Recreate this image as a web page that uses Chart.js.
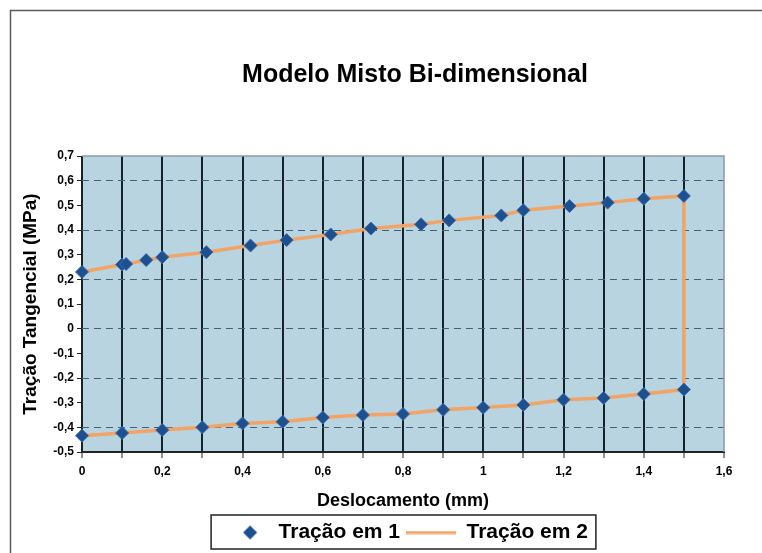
<!DOCTYPE html>
<html>
<head>
<meta charset="utf-8">
<script src="https://cdn.jsdelivr.net/npm/chart.js@4.4.0/dist/chart.umd.min.js"></script>
<style>
  html, body { margin: 0; padding: 0; background: #fff; }
</style>
</head>
<body>
<canvas id="chart" width="762" height="553"></canvas>
<script>
// Upper branch (loading) - Tração em 1 diamonds
const upperX = [0, 0.1, 0.11, 0.16, 0.2, 0.31, 0.42, 0.51, 0.62, 0.72, 0.845, 0.915, 1.045, 1.1, 1.215, 1.31, 1.4, 1.5];
const upperY = [0.23, 0.26, 0.262, 0.278, 0.29, 0.31, 0.337, 0.359, 0.382, 0.406, 0.423, 0.439, 0.459, 0.48, 0.497, 0.511, 0.527, 0.538];
// Lower branch (unloading)
const lowerX = [0, 0.1, 0.2, 0.3, 0.4, 0.5, 0.6, 0.7, 0.8, 0.9, 1.0, 1.1, 1.2, 1.3, 1.4, 1.5];
const lowerY = [-0.434, -0.423, -0.411, -0.4, -0.384, -0.377, -0.36, -0.35, -0.346, -0.329, -0.32, -0.309, -0.288, -0.281, -0.265, -0.247];

const seriesNames = ['Tração em 1', 'Tração em 2'];

const blue = '#1e4f8f';
const orange = '#f2a366';

// comma decimals like the original sheet
const fmt = v => String(Math.round(v * 10) / 10).replace('.', ',');
const isEven = v => Math.abs(Math.round(v * 10)) % 2 === 0;

const toPoints = (xs, ys) => xs.map((x, i) => ({ x: x, y: ys[i] }));

const diamonds = toPoints(upperX, upperY).concat(toPoints(lowerX, lowerY));
// line goes along the top, down at 1.5 and back along the bottom
const loop = toPoints(upperX, upperY).concat(toPoints(lowerX, lowerY).reverse());

// little canvases used as legend markers
function makeIcon(w, h, draw) {
    const c = document.createElement('canvas');
    c.width = w;
    c.height = h;
    draw(c.getContext('2d'));
    return c;
}
const diamondIcon = makeIcon(50, 16, g => {
    g.fillStyle = blue;
    g.beginPath();
    g.moveTo(32, 1); g.lineTo(39, 8); g.lineTo(32, 15); g.lineTo(25, 8);
    g.closePath();
    g.fill();
});
const lineIcon = makeIcon(50, 4, g => {
    g.fillStyle = orange;
    g.fillRect(0, 0.5, 50, 3);
});

const framePlugin = {
    id: 'frame',
    afterLayout(chart) {
        // the original title and legend sit centred over the plot, not the page
        chart.titleBlock.left += 46;
        chart.titleBlock.right += 46;
        chart.legend.left += 34;
        chart.legend.right += 34;
    },
    beforeDraw(chart) {
        const { ctx, chartArea: a } = chart;
        ctx.save();
        ctx.fillStyle = '#fff';
        ctx.fillRect(0, 0, chart.width, chart.height);
        ctx.strokeStyle = '#5a5a5a';
        ctx.lineWidth = 1.5;
        ctx.beginPath();
        ctx.moveTo(10.5, chart.height);
        ctx.lineTo(10.5, 10.5);
        ctx.lineTo(chart.width, 10.5);
        ctx.stroke();
        ctx.fillStyle = '#b9d4e1';
        ctx.fillRect(a.left, a.top, a.width, a.height);
        ctx.restore();
    },
    beforeDatasetsDraw(chart) {
        const { ctx, chartArea: a } = chart;
        ctx.save();
        ctx.strokeStyle = '#8c9ca4';
        ctx.lineWidth = 1.5;
        ctx.beginPath();
        ctx.moveTo(a.left, a.top);
        ctx.lineTo(a.right, a.top);
        ctx.lineTo(a.right, a.bottom);
        ctx.stroke();
        ctx.restore();
    },
    afterDraw(chart) {
        const hb = chart.legend.legendHitBoxes;
        if (!hb || !hb.length) return;
        const last = hb[hb.length - 1];
        const x0 = hb[0].left - 7;
        const x1 = last.left + last.width + 8;
        const y0 = hb[0].top - 7;
        const y1 = hb[0].top + hb[0].height + 6;
        const ctx = chart.ctx;
        ctx.save();
        ctx.strokeStyle = '#222';
        ctx.lineWidth = 1.5;
        ctx.strokeRect(x0, y0, x1 - x0, y1 - y0);
        ctx.restore();
    }
};

Chart.defaults.font.family = "'Liberation Sans', Arial, sans-serif";
Chart.defaults.color = '#000';

new Chart(document.getElementById('chart').getContext('2d'), {
    type: 'scatter',
    data: {
        datasets: [
            {
                label: seriesNames[0],
                data: diamonds,
                pointStyle: 'rectRot',
                pointRadius: 6.5,
                backgroundColor: blue,
                borderColor: '#3a6cab',
                borderWidth: 1,
                showLine: false,
                clip: false
            },
            {
                label: seriesNames[1],
                data: loop,
                showLine: true,
                borderColor: orange,
                backgroundColor: orange,
                borderWidth: 3.5,
                pointRadius: 0,
                tension: 0,
                clip: false
            }
        ]
    },
    options: {
        responsive: false,
        animation: false,
        events: [],
        layout: { padding: { left: 14, right: 38, top: 0, bottom: 0 } },
        plugins: {
            title: {
                display: true,
                text: 'Modelo Misto Bi-dimensional',
                color: '#000',
                font: { size: 25, weight: 'bold' },
                padding: { top: 60, bottom: 66 }
            },
            legend: {
                position: 'bottom',
                labels: {
                    usePointStyle: true,
                    pointStyleWidth: 50,
                    boxHeight: 16,
                    padding: 6,
                    color: '#000',
                    font: { size: 21, weight: 'bold' },
                    generateLabels(chart) {
                        const items = Chart.defaults.plugins.legend.labels.generateLabels(chart);
                        items[0].pointStyle = diamondIcon;
                        items[1].pointStyle = lineIcon;
                        return items;
                    }
                }
            },
            tooltip: { enabled: false }
        },
        scales: {
            x: {
                type: 'linear',
                min: 0,
                max: 1.6,
                afterFit: s => { s.height = 64; },
                ticks: {
                    stepSize: 0.1,
                    autoSkip: false,
                    maxRotation: 0,
                    padding: 6,
                    color: '#000',
                    font: { size: 12, weight: 'bold' },
                    callback: v => (isEven(v) ? fmt(v) : '')
                },
                grid: {
                    color: ctx => (ctx.tick && Math.round(ctx.tick.value * 10) === 16 ? 'rgba(0,0,0,0)' : '#14222c'),
                    lineWidth: 2,
                    tickColor: '#222',
                    tickLength: 6,
                    tickWidth: 1
                },
                border: { color: '#222', width: 2 },
                title: {
                    display: true,
                    text: 'Deslocamento (mm)',
                    color: '#000',
                    font: { size: 18, weight: 'bold' },
                    padding: { top: 4, bottom: 4 }
                }
            },
            y: {
                min: -0.5,
                max: 0.7,
                afterFit: s => { s.width = 68; },
                ticks: {
                    stepSize: 0.1,
                    padding: 3,
                    color: '#000',
                    font: { size: 12, weight: 'bold' },
                    callback: v => fmt(v)
                },
                grid: {
                    color: ctx => (ctx.tick && isEven(ctx.tick.value) && ctx.tick.value < 0.65 && ctx.tick.value > -0.45 ? '#3f6275' : 'rgba(0,0,0,0)'),
                    lineWidth: 1,
                    tickColor: '#222',
                    tickLength: 5,
                    tickWidth: 1
                },
                border: { display: false, dash: [7, 5] },
                title: {
                    display: true,
                    text: 'Tração Tangencial (MPa)',
                    color: '#000',
                    font: { size: 19, weight: 'bold' },
                    padding: { top: 5, bottom: 2 }
                }
            }
        }
    },
    plugins: [framePlugin]
});
</script>
</body>
</html>
